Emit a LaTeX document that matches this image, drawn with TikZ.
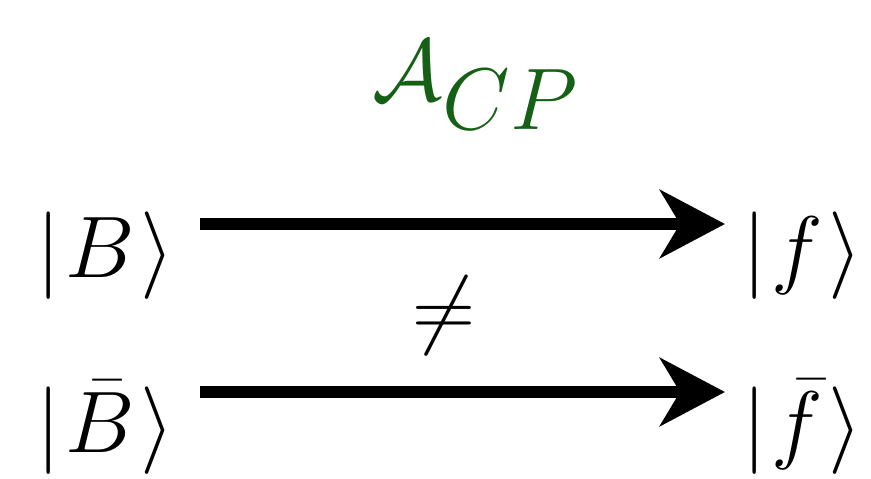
\documentclass[tikz,border=0pt]{standalone}
\usepackage{tikz}
\usetikzlibrary{arrows.meta, positioning}
\usepackage{amsmath, amssymb}
\definecolor{cpgreen}{RGB}{22,96,22}

\begin{document}
\begin{tikzpicture}[>={Stealth[length=6.5mm,width=6.8mm,inset=2mm]},
    every node/.style={inner sep=0pt, font=\fontsize{36}{42}\selectfont},
    arr/.style={->, line width=1.15mm}]
    \useasboundingbox (0,0) rectangle (8.71,-4.79);

    \node[text=cpgreen, anchor=base] (Acp) at (4.76,-1.0) {$\mathcal{A}_{CP}$};

    \node[anchor=base west] (B) at (0.36,-2.77) {$|\mkern1mu B\mkern1mu\rangle$};
    \node[anchor=base west] (f) at (7.42,-2.77) {$|\mkern1mu f\mkern1mu\rangle$};
    \node[anchor=base west] (Bbar) at (0.36,-4.52) {$|\mkern1mu\bar{B}\mkern1mu\rangle$};
    \node[anchor=base west] (fbar) at (7.42,-4.52) {$|\mkern1mu\bar{f}\mkern1mu\rangle$};

    \node (neq) at (4.44,-3.16) {$\neq$};

    \draw[arr] ([xshift=2.5mm]B.east |- 0,-2.24) -- ([xshift=-1.7mm]f.west |- 0,-2.24);
    \draw[arr] ([xshift=2.5mm]Bbar.east |- 0,-3.92) -- ([xshift=-1.7mm]fbar.west |- 0,-3.92);
\end{tikzpicture}
\end{document}
